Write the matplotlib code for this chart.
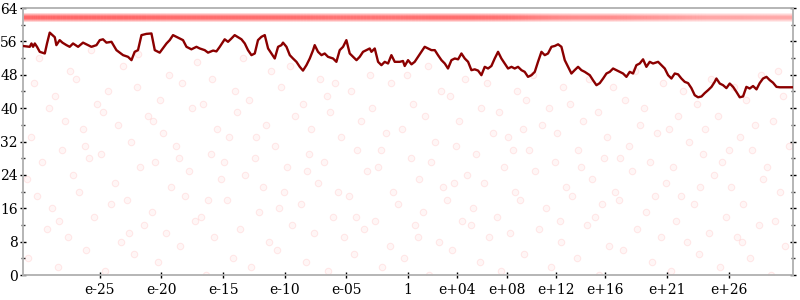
import matplotlib
matplotlib.use("Agg")
import matplotlib.pyplot as plt
import numpy as np
from matplotlib.collections import LineCollection

# ---- data (x in decades, log10 of magnitude) ----
line_x = [-31.25, -30.68, -30.54, -30.41, -30.27, -30.09, -29.87, -29.46, -29.28, -29.06,
          -28.84, -28.65, -28.52, -28.25, -28.03, -27.70, -27.44, -27.17, -26.76, -26.36,
          -25.95, -25.68, -25.27, -25.00, -24.74, -24.46, -24.05, -23.65, -23.11, -22.71,
          -22.43, -22.17, -21.90, -21.62, -21.22, -20.81, -20.54, -20.14, -19.59, -19.33,
          -19.06, -18.52, -18.25, -17.97, -17.57, -17.16, -16.89,
          -16.49, -16.22, -15.81, -15.54, -15.27, -15.00, -14.87, -14.60, -14.32, -14.06,
          -13.79, -13.51, -13.24, -12.98, -12.70, -12.43, -12.17, -11.89, -11.62, -11.35,
          -11.08, -10.81, -10.54, -10.27, -10.14, -9.86, -9.59, -9.33, -9.05, -8.78,
          -8.52, -8.24, -7.97, -7.70, -7.57, -7.30, -7.02, -6.76, -6.49, -6.08,
          -5.81, -5.54, -5.27, -5.00, -4.73, -4.46, -4.18, -3.92, -3.65, -3.37,
          -3.11, -2.97, -2.70, -2.43, -2.16, -1.89, -1.62, -1.35, -1.08, -0.67,
          -0.41, -0.27, 0.00, 0.28, 0.54, 0.81, 1.09, 1.35, 1.62, 1.90,
          2.17, 2.43, 2.71, 2.98, 3.24, 3.52, 3.79, 4.06, 4.33, 4.60,
          4.87, 5.14, 5.41, 5.68, 5.95, 6.22, 6.49, 6.76, 7.03, 7.30,
          7.57, 7.84, 8.11, 8.39, 8.65, 8.92, 9.20, 9.46, 9.73, 10.01,
          10.28, 10.54, 10.82, 11.09, 11.35, 11.63, 11.90, 12.17, 12.44, 12.71,
          12.98, 13.25, 13.51, 13.79, 14.06, 14.33, 14.74, 15.00, 15.28, 15.55,
          15.82, 16.09, 16.36, 16.63, 16.90, 17.17, 17.44, 17.71, 17.98, 18.25,
          18.52, 18.79, 19.06, 19.33, 19.60, 19.87, 20.28, 20.55, 20.82, 21.09,
          21.36, 21.63, 21.90, 22.17, 22.44, 22.71, 22.98, 23.25, 23.52, 23.80,
          24.06, 24.33, 24.61, 24.87, 25.01, 25.28, 25.55, 25.82, 26.09, 26.36,
          26.63, 26.90, 27.17, 27.44, 27.71, 27.98, 28.26, 28.52, 28.79, 29.07,
          29.34, 29.60, 29.88, 30.15, 31.22]
line_y = [54.9, 54.7, 55.5, 54.7, 55.5, 54.7, 53.5, 53.1, 55.5, 58.1,
          57.5, 57.0, 55.1, 56.3, 55.7, 55.1, 54.7, 55.5, 54.7, 55.7,
          55.1, 54.7, 55.1, 56.3, 56.5, 55.7, 55.9, 53.9, 52.7, 52.3,
          51.5, 53.5, 53.9, 57.5, 57.8, 57.9, 53.9, 53.3, 55.5, 56.3,
          57.5, 56.7, 56.3, 54.7, 54.1, 54.7, 54.3,
          53.9, 53.3, 53.8, 53.6, 54.7, 55.9, 56.5, 55.9, 56.7, 57.5,
          57.0, 56.5, 55.5, 53.9, 52.7, 53.1, 56.3, 57.1, 57.5, 54.3,
          53.1, 51.9, 54.7, 55.1, 55.7, 54.7, 52.7, 51.9, 51.1, 49.9,
          49.0, 50.3, 51.9, 53.9, 55.1, 53.5, 52.7, 53.1, 52.3, 51.9,
          51.1, 53.9, 54.7, 56.3, 53.1, 52.3, 51.5, 52.3, 53.5, 53.9,
          54.3, 53.5, 54.3, 51.1, 50.3, 51.1, 50.7, 52.7, 51.1, 51.1,
          51.3, 50.1, 51.5, 50.5, 51.1, 52.3, 53.5, 54.7, 54.3, 53.9,
          53.9, 52.7, 51.5, 50.7, 49.5, 51.5, 51.9, 51.7, 53.1, 51.9,
          51.1, 49.1, 49.3, 49.0, 47.9, 49.9, 49.5, 50.1, 51.9, 53.5,
          51.9, 50.7, 49.5, 49.9, 49.5, 49.9, 49.1, 48.7, 47.5, 47.9,
          48.7, 51.1, 53.5, 52.7, 53.1, 54.7, 54.9, 55.3, 54.7, 51.5,
          49.9, 48.3, 49.1, 49.9, 49.1, 48.7, 47.9, 46.7, 45.5, 46.0,
          47.1, 48.3, 48.7, 49.5, 49.1, 48.7, 48.3, 47.5, 48.7, 48.3,
          50.3, 50.7, 51.7, 49.9, 51.1, 50.7, 51.1, 50.3, 49.5, 47.9,
          47.1, 48.3, 48.1, 47.1, 46.3, 46.0, 44.8, 43.1, 42.6, 42.8,
          43.6, 44.3, 45.1, 46.3, 47.1, 45.9, 45.5, 44.8, 45.9, 45.1,
          43.9, 42.6, 42.8, 45.1, 44.7, 45.3, 44.5, 46.0, 47.1, 47.5,
          46.7, 46.1, 45.1, 45.0, 45.0]

# dense band of samples near full precision (centre level and relative density)
band_x = [-31.25, -28, -25, -22, -19, -16, -13, -10, -7, -4, -1, 2, 5, 8, 10, 12, 14,
          16, 18, 20, 22, 24, 26, 28, 31.25]
band_y = [61.8, 61.8, 61.8, 61.8, 61.8, 61.8, 61.8, 61.8, 61.8, 61.8, 61.8, 61.8, 61.8,
          61.8, 61.8, 61.8, 61.8, 61.8, 61.8, 61.8, 61.8, 61.8, 61.8, 61.8, 61.8]
band_density = [1.0, 1.0, 1.0, 1.0, 0.95, 0.95, 0.95, 0.95, 0.9, 0.9, 0.9, 0.95, 0.95,
                0.9, 0.8, 0.72, 0.68, 0.68, 0.65, 0.6, 0.55, 0.5, 0.5, 0.48, 0.48]

# scattered individual samples with lower precision
dots_x = [-30.8, -29.3, -30.1, -29.7, -30.6, -29.1, -30.3, -29.9, -30.9,
          -28.4, -27.6, -28.9, -27.2, -28.1, -27.8, -28.6, -27.4, -28.3,
          -26.1, -25.5, -26.7, -25.9, -26.4, -25.2, -26.9, -25.7, -26.2,
          -24.6, -23.3, -24.1, -23.8, -24.9, -23.5, -24.3, -23.1, -24.7,
          -22.2, -21.4, -22.8, -21.7, -22.5, -21.1, -22.0, -21.9, -22.6,
          -20.3, -19.6, -20.8, -19.2, -20.5, -19.9, -20.1, -19.4, -20.7,
          -18.5, -17.3, -18.1, -17.8, -18.8, -17.5, -18.3, -17.1, -18.6,
          -16.4, -15.7, -16.8, -15.2, -16.0, -15.5, -16.6, -15.9, -16.2,
          -14.2, -13.6, -14.7, -13.2, -14.5, -13.9, -14.0, -13.4, -14.9,
          -12.7, -11.3, -12.1, -11.8, -12.4, -11.5, -12.9, -11.1, -12.3,
          -10.6, -9.4, -10.1, -9.8, -10.8, -9.2, -10.3, -9.6, -10.5,
          -8.3, -7.6, -8.7, -7.3, -8.0, -7.9, -8.5, -7.1, -8.2,
          -6.5, -5.2, -6.1, -5.7, -6.8, -5.4, -6.3, -5.9, -6.6,
          -4.4, -3.6, -4.8, -3.3, -4.1, -3.8, -4.6, -3.1, -4.2,
          -2.1, -1.5, -2.7, -1.2, -2.4, -1.8, -2.9, -1.4, -2.2,
          -0.3, 0.6, -0.8, 0.9, 0.2, -0.5, 0.4, -0.1, 0.8,
          1.7, 2.5, 1.2, 2.8, 1.9, 2.2, 1.4, 2.7, 1.6,
          3.6, 4.4, 3.2, 4.8, 3.9, 4.1, 3.4, 4.6, 3.7,
          5.8, 6.6, 5.3, 6.2, 5.5, 6.9, 5.9, 6.4, 5.1,
          7.5, 8.3, 7.2, 8.7, 7.8, 8.1, 7.4, 8.8, 8.5,
          9.4, 10.6, 9.1, 10.3, 9.8, 10.9, 9.6, 10.1, 9.3,
          11.6, 12.4, 11.2, 12.8, 11.9, 12.1, 11.4, 12.6, 12.3,
          13.7, 14.5, 13.3, 14.9, 13.8, 14.2, 13.1, 14.7, 14.0,
          15.5, 16.3, 15.2, 16.8, 15.9, 16.1, 15.4, 16.6, 15.7,
          17.4, 18.6, 17.1, 18.2, 17.9, 18.8, 17.6, 18.4, 17.2,
          19.8, 20.5, 19.3, 20.9, 19.6, 20.2, 19.1, 20.7, 20.0,
          21.3, 22.6, 21.7, 22.1, 21.5, 22.8, 21.9, 22.3, 21.2,
          23.6, 24.4, 23.2, 24.8, 23.9, 24.1, 23.4, 24.6, 23.7,
          25.3, 26.7, 25.8, 26.2, 25.5, 26.9, 25.1, 26.4, 26.0,
          27.7, 28.5, 27.2, 28.8, 27.9, 28.1, 27.4, 28.6, 27.1,
          29.4, 30.6, 29.8, 30.2, 29.1, 30.9, 29.6, 30.4, 30.0]
dots_y = [4, 11, 19, 27, 33, 40, 46, 52, 23,
          2, 9, 16, 24, 30, 37, 43, 49, 13,
          6, 14, 20, 28, 35, 41, 47, 54, 31,
          1, 8, 17, 22, 29, 36, 44, 50, 39,
          5, 12, 18, 26, 32, 38, 45, 53, 10,
          3, 10, 15, 21, 27, 34, 42, 48, 37,
          7, 13, 19, 25, 31, 40, 46, 51, 28,
          0, 9, 14, 23, 29, 35, 41, 47, 18,
          4, 11, 18, 24, 33, 39, 44, 52, 27,
          2, 8, 15, 21, 28, 36, 42, 49, 33,
          6, 12, 20, 26, 31, 38, 45, 50, 16,
          3, 10, 17, 22, 29, 35, 41, 47, 25,
          1, 9, 14, 20, 27, 33, 39, 46, 43,
          5, 11, 19, 25, 30, 37, 44, 48, 14,
          2, 7, 13, 20, 26, 34, 40, 46, 30,
          4, 12, 17, 23, 28, 35, 41, 48, 9,
          0, 8, 15, 21, 27, 32, 38, 44, 50,
          6, 13, 18, 24, 31, 37, 43, 47, 22,
          3, 9, 16, 22, 29, 34, 40, 46, 12,
          1, 10, 14, 20, 26, 33, 39, 44, 30,
          5, 11, 18, 25, 30, 36, 42, 48, 35,
          2, 8, 16, 21, 27, 34, 40, 45, 13,
          4, 12, 19, 23, 30, 37, 41, 47, 26,
          0, 7, 14, 20, 28, 33, 39, 45, 17,
          6, 11, 18, 25, 31, 36, 42, 49, 28,
          3, 9, 15, 22, 27, 34, 40, 46, 19,
          1, 8, 13, 19, 26, 32, 38, 44, 35,
          5, 10, 17, 24, 29, 35, 41, 47, 21,
          2, 9, 14, 21, 27, 33, 38, 45, 30,
          4, 12, 17, 23, 30, 36, 42, 48, 8,
          0, 7, 13, 20, 26, 31, 37, 43, 49]

xtick_pos = [-25, -20, -15, -10, -5, 0, 4, 8, 12, 16, 21, 26]
xtick_labels = ["e-25", "e-20", "e-15", "e-10", "e-05", "1", "e+04", "e+08", "e+12",
                "e+16", "e+21", "e+26"]
ytick_pos = [0, 8, 16, 24, 32, 40, 48, 56, 64]
ytick_minor = [4, 12, 20, 28, 36, 44, 52, 60]

# ---- figure ----
plt.rcParams['font.family'] = ['DejaVu Serif']
fig = plt.figure(figsize=(8, 3), dpi=100)
ax = fig.add_axes([0.0284, 0.0833, 0.9633, 0.8900])
ax.set_xlim(-31.25, 31.25)
ax.set_ylim(0, 64)

# faint scatter
n = min(len(dots_x), len(dots_y))
ax.scatter(dots_x[:n], dots_y[:n], s=22, facecolor=(1, 0, 0, 0.035),
           edgecolor=(1, 0, 0, 0.08), linewidth=0.8, zorder=1)

# band: fine segments along the line's sampling, alpha from the density profile
bx = np.array(line_x)
by = np.interp(bx, band_x, band_y)
bd = np.interp(bx, band_x, band_density)
segs = [[(bx[i], by[i]), (bx[i + 1], by[i + 1])] for i in range(len(bx) - 1)]
for lw, a in [(6.5, 0.16), (5.0, 0.2), (3.5, 0.22), (2.0, 0.22)]:
    cols = [(1, 0, 0, a * d) for d in bd[:-1]]
    lc = LineCollection(segs, colors=cols, linewidths=lw, capstyle='butt', zorder=2)
    ax.add_collection(lc)

# mean line
ax.plot(line_x, line_y, color='#8b0000', lw=1.7, zorder=3, solid_joinstyle='round')

for s in ax.spines.values():
    s.set_color('#b0b0b0')
    s.set_linewidth(1.3)

ax.set_yticks(ytick_pos)
ax.set_yticks(ytick_minor, minor=True)
ax.set_xticks(xtick_pos)
ax.set_xticklabels(xtick_labels)
ax.tick_params(axis='y', which='major', direction='inout', length=5, width=1, color='black',
               left=True, right=True, labelsize=10, pad=1)
ax.tick_params(axis='y', which='minor', direction='inout', length=3, width=1, color='#333333',
               left=True, right=True)
ax.tick_params(axis='x', which='major', direction='inout', length=5, width=1, color='black',
               labelsize=10, pad=3)

fig.savefig('out.png', dpi=100)
